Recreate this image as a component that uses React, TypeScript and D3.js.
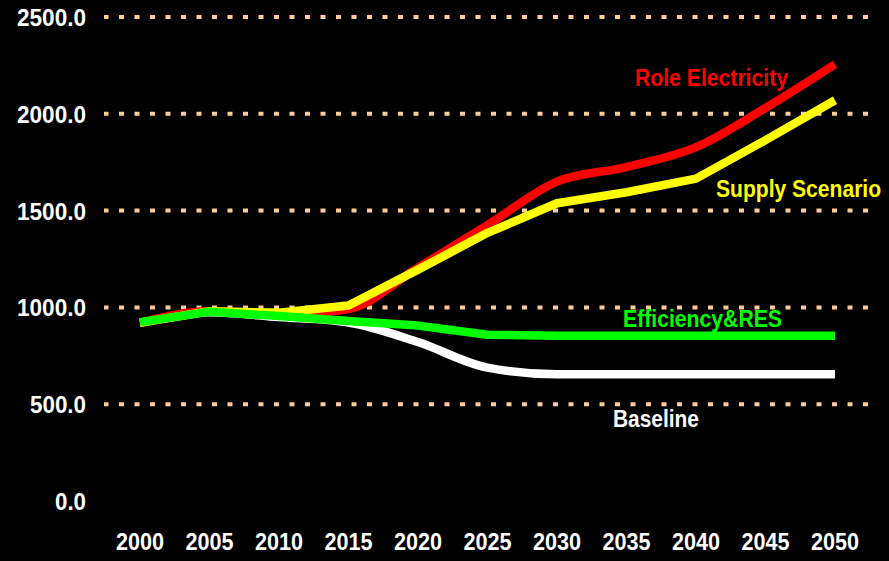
import React, { useLayoutEffect, useRef, useState } from "react";
import * as d3 from "d3";

const years = [2000, 2005, 2010, 2015, 2020, 2025, 2030, 2035, 2040, 2045, 2050];
const baseline = [920, 975, 950, 922, 821, 689, 655, 655, 655, 655, 655];
const efficiencyRES = [924, 978, 955, 930, 906, 859, 853, 853, 853, 853, 853];
const roleElectricity = [920, 980, 962, 992, 1205, 1425, 1650, 1725, 1828, 2030, 2256];
const supplyScenario = [920, 980, 972, 1010, 1195, 1385, 1538, 1595, 1665, 1864, 2070];
const yTicks = [0, 500, 1000, 1500, 2000, 2500];
const gridTicks = [500, 1000, 1500, 2000, 2500];

const W = 889;
const H = 561;

export default function App() {
  const x = d3.scaleLinear().domain([2000, 2050]).range([140, 835]);
  const y = d3.scaleLinear().domain([0, 2500]).range([501, 17]);

  const mk = (vals: number[], smooth: boolean) =>
    d3
      .line<number>()
      .x((_, i) => x(years[i]))
      .y((v) => y(v))
      .curve(smooth ? d3.curveMonotoneX : d3.curveLinear)(vals) as string;

  const series = [
    { vals: baseline, color: "#FFFFFF", smooth: true },
    { vals: roleElectricity, color: "#FF0000", smooth: true },
    { vals: supplyScenario, color: "#FFFF00", smooth: false },
    { vals: efficiencyRES, color: "#00FF00", smooth: false },
  ];

  const font = "'Liberation Sans', Arial, sans-serif";

  const labels = [
    { text: "Role Electricity", x: 635, y: 86, w: 153, color: "#FF0000" },
    { text: "Supply Scenario", x: 716, y: 196.5, w: 165, color: "#FFFF00" },
    { text: "Efficiency&RES", x: 623, y: 327, w: 159, color: "#00FF00" },
    { text: "Baseline", x: 613, y: 427, w: 86, color: "#FFFFFF" },
  ];

  const refs = useRef<(SVGTextElement | null)[]>([]);
  const [scales, setScales] = useState<number[]>(labels.map(() => 0.88));
  useLayoutEffect(() => {
    const s = labels.map((l, i) => {
      const el = refs.current[i];
      if (!el) return 0.88;
      const nat = el.getComputedTextLength();
      return nat > 0 ? l.w / nat : 0.88;
    });
    setScales(s);
  }, []);

  return (
    <svg
      width={W}
      height={H}
      style={{ position: "absolute", left: 0, top: 0, display: "block" }}
    >
      <rect x={0} y={0} width={W} height={H} fill="#000000" />
      {gridTicks.map((t) => (
        <line
          key={t}
          x1={104}
          x2={872}
          y1={y(t)}
          y2={y(t)}
          stroke="#FFCC99"
          strokeWidth={4}
          strokeDasharray="5 10.5"
          strokeDashoffset={0.5}
        />
      ))}
      {yTicks.map((t) => (
        <text
          key={t}
          x={86}
          y={y(t) + 9}
          textAnchor="end"
          fill="#FFFFFF"
          fontFamily={font}
          fontWeight="bold"
          fontSize={24}
          textLength={t === 0 ? 31 : t < 1000 ? 56 : 69}
          lengthAdjust="spacingAndGlyphs"
        >
          {d3.format(".1f")(t)}
        </text>
      ))}
      {years.map((yr) => (
        <text
          key={yr}
          x={x(yr)}
          y={550}
          textAnchor="middle"
          fill="#FFFFFF"
          fontFamily={font}
          fontWeight="bold"
          fontSize={24}
          textLength={48}
          lengthAdjust="spacingAndGlyphs"
        >
          {yr}
        </text>
      ))}
      {series.map((s, i) => (
        <path
          key={i}
          d={mk(s.vals, s.smooth)}
          fill="none"
          stroke={s.color}
          strokeWidth={8.5}
          strokeLinejoin="round"
          strokeLinecap="butt"
        />
      ))}
      {labels.map((l, i) => (
        <g key={l.text} transform={`translate(${l.x},${l.y}) scale(${scales[i]},1)`}>
          <text
            ref={(el) => {
              refs.current[i] = el;
            }}
            x={0}
            y={0}
            fill={l.color}
            fontFamily={font}
            fontWeight="bold"
            fontSize={24}
          >
            {l.text}
          </text>
        </g>
      ))}
    </svg>
  );
}
